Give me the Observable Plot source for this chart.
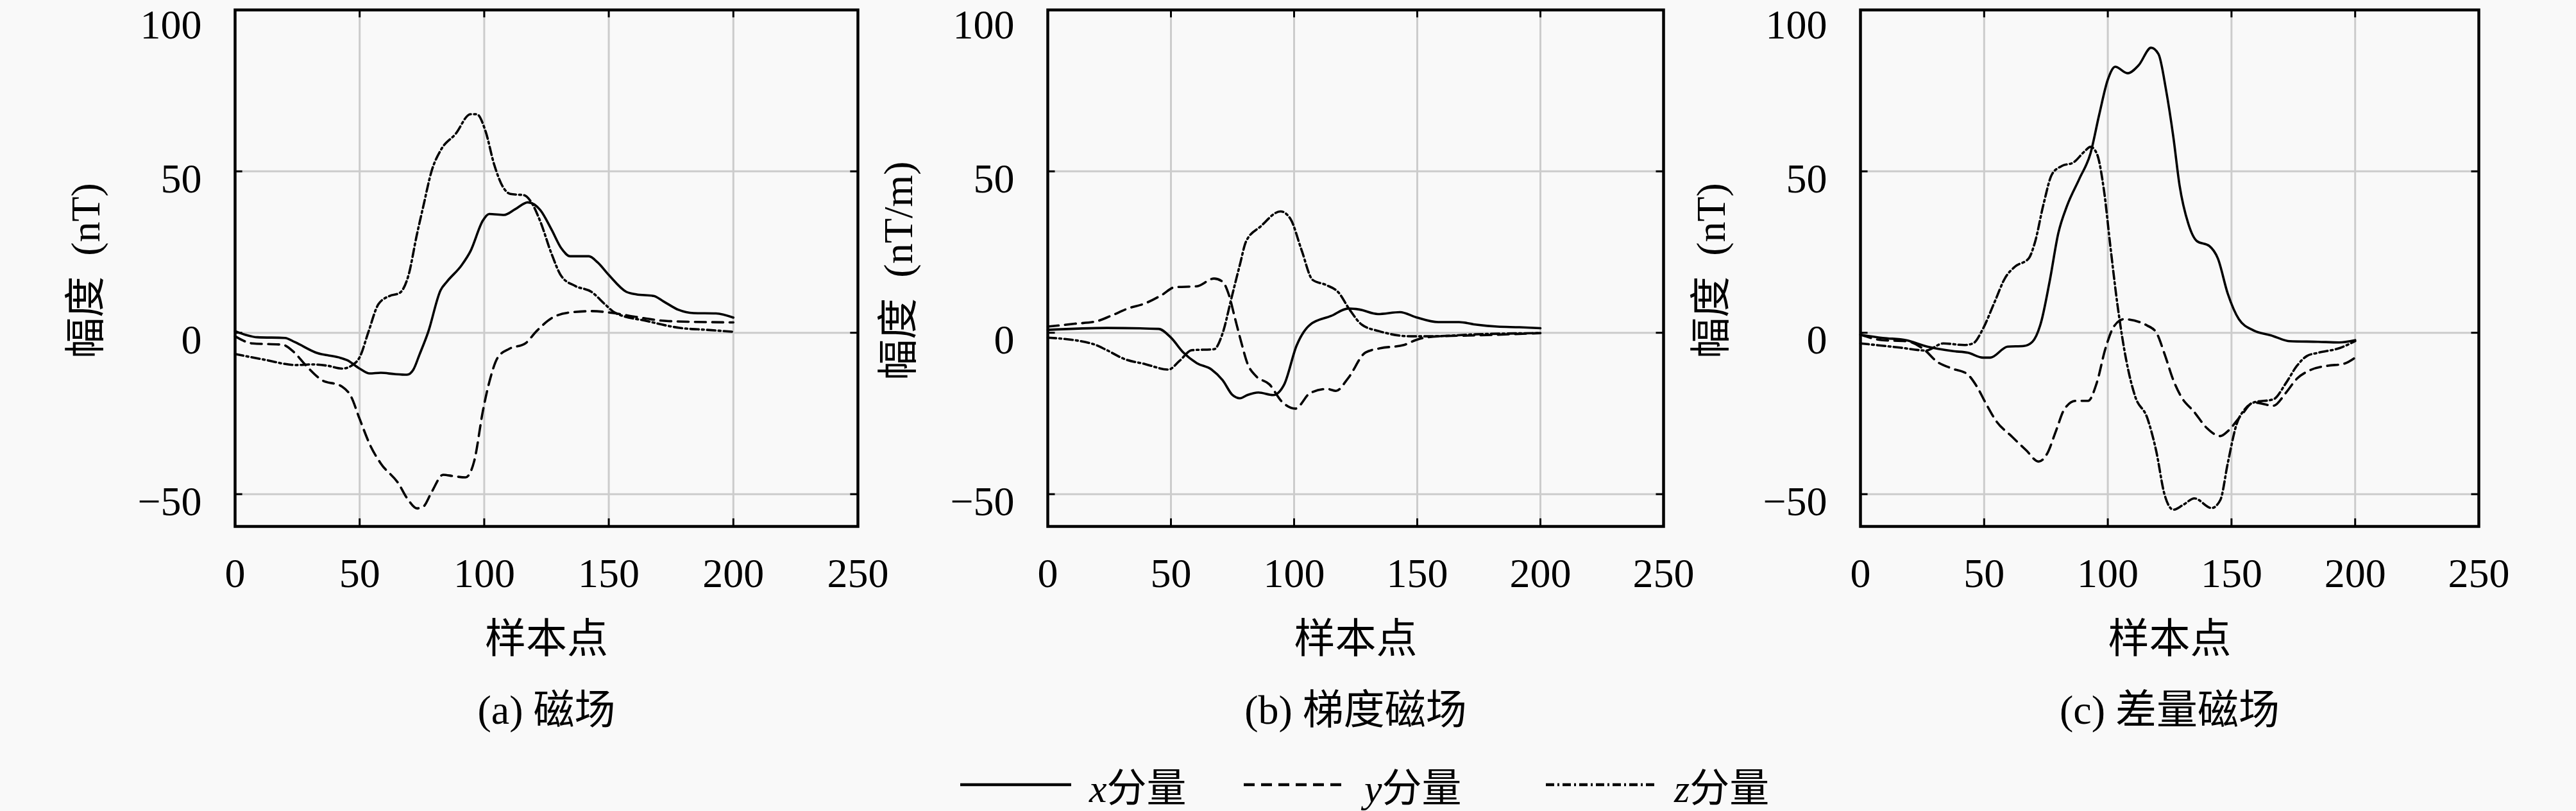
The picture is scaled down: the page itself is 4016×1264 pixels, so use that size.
<!DOCTYPE html>
<html>
<head>
<meta charset="utf-8">
<script src="https://cdn.jsdelivr.net/npm/d3@7"></script>
<script src="https://cdn.jsdelivr.net/npm/@observablehq/plot@0.6"></script>
<style>
  html, body { margin: 0; padding: 0; background: #f9f9f9; }
  #root { position: relative; width: 4016px; height: 1264px; overflow: hidden;
          font-family: "Liberation Serif", "Noto Sans CJK SC", serif; color: #000; }
  .panel { position: absolute; top: 0; }
  .panel svg { overflow: visible; }
  .item { position: absolute; top: 1190px; height: 66px; display: flex; align-items: center;
          font-size: 62px; font-family: "Liberation Serif", "Noto Sans CJK SC", serif; }
  .item i { font-family: "Liberation Serif", serif; }
</style>
</head>
<body>
<div id="root"></div>
<script>
// ---- tick labels / axes ----
const xTicks = [0, 50, 100, 150, 200, 250];
const yTicks = [-50, 0, 50];
const yTopTick = [100];
const gridX = [50, 100, 150, 200];
const gridY = [-50, 0, 50];
const xLabel = "样本点";
const seriesNames = ["x", "y", "z"];

// ---- (a) 磁场 ----
const aXs = [0, 9, 20, 24, 33, 41.5, 45, 50, 54, 58.5, 64, 69, 71.5, 74, 77.5, 82.5, 85, 91, 94.5, 99.5, 102, 108, 112.5, 117.5, 122.5, 127, 131, 134.5, 142, 145.5, 150, 157, 161, 168, 172, 178, 184, 193, 200];
const aXv = [0.5, -1.4, -1.6, -2.9, -6.3, -7.6, -8.5, -11.1, -12.6, -12.4, -12.8, -13, -11.5, -6.8, 0.2, 13.2, 15.8, 21, 25.3, 34.8, 36.8, 36.5, 38.3, 40.4, 38, 32, 26.1, 23.7, 23.7, 21.8, 17.9, 12.7, 11.9, 11.4, 9.7, 7.1, 6.1, 6, 4.7];
const aYs = [0, 7, 19, 23.5, 28.5, 34.5, 43, 46.5, 50, 54.5, 58.5, 65.5, 69.5, 73, 75.5, 79, 83.5, 87.5, 92.5, 96, 99.5, 102, 105.5, 110, 116.5, 121, 127, 133.5, 143, 151, 161, 174, 200];
const aYv = [-1.1, -3.3, -3.7, -5.9, -10.2, -14.5, -16.7, -19.7, -26.7, -35.3, -40.5, -46.6, -51.8, -54.4, -53.9, -49.2, -44, -44.4, -44.8, -39.7, -24.1, -15.4, -7.6, -5, -3.3, 0.5, 4.5, 6.2, 6.7, 6.2, 4.9, 3.6, 3.2];
const aZs = [0, 11.5, 24.5, 31, 37, 43, 47.5, 50, 53.5, 57.5, 62, 66, 69.5, 73, 75.5, 79, 82.5, 88.5, 94.5, 97, 100.5, 104, 107.5, 110.5, 116, 118.5, 122.5, 127, 131, 136.5, 143, 148.5, 152.5, 165.5, 178.5, 189.5, 200];
const aZv = [-6.6, -8.3, -10, -9.8, -10.2, -11.1, -9.8, -7.6, 0.2, 8.8, 11.4, 12.3, 17.5, 30.5, 39, 50.4, 56.5, 61.6, 67.7, 67.7, 62.5, 52.1, 45.2, 43, 42.6, 40.9, 34.5, 24.5, 17.5, 14.5, 12.7, 8.8, 6.2, 3.6, 1.5, 0.9, 0.3];

// ---- (b) 梯度磁场 ----
const bXs = [0, 24, 45, 50, 55, 60.5, 66.5, 71, 75, 78, 81, 85.5, 91.5, 96, 101, 106.5, 115, 122, 126.5, 134, 143, 149.5, 158.5, 167, 174, 182.5, 191.5, 200];
const bXv = [0.9, 1.5, 1.2, -1.5, -6.1, -9.4, -11.4, -14.7, -19.3, -20.3, -19.3, -18.5, -19.3, -16, -4, 2.5, 5.2, 7.5, 7.2, 5.8, 6.4, 4.8, 3.3, 3.3, 2.5, 1.9, 1.7, 1.4];
const bYs = [0, 11, 19.5, 25.5, 32.5, 39.5, 46.5, 51.5, 60.5, 67.5, 71, 73.5, 76, 78.5, 81, 84.5, 90, 95, 100.5, 106.5, 113.5, 117, 122, 129, 135, 144.5, 150, 158.5, 174, 200];
const bYv = [1.9, 2.8, 3.5, 5.2, 7.5, 9.1, 11.8, 14.1, 14.4, 16.8, 15.8, 11.8, 4.5, -2.8, -9.4, -13.4, -16, -21.3, -23.5, -18.7, -17.4, -18, -14, -6.1, -4.8, -3.8, -2.1, -1.1, -0.8, -0.1];
const bZs = [0, 18, 24, 31, 39.5, 49, 53.5, 58.5, 67.5, 71, 74.5, 78, 80.5, 86.5, 94.5, 98.5, 103, 107.5, 113, 118, 122.5, 127.5, 134.5, 147.5, 156, 173.5, 200];
const bZv = [-1.5, -3.4, -5.4, -8.1, -9.7, -11.4, -8.7, -5.4, -5.1, -0.1, 10.5, 21.1, 28.3, 33, 37.6, 35.3, 25.7, 16.4, 14.8, 12.5, 7.2, 2.5, 0.5, -1.1, -1.1, -0.5, -0.1];

// ---- (c) 差量磁场 ----
const cXs = [0, 9, 18.5, 27, 37.5, 43.5, 49.5, 52.5, 59.5, 66, 69.5, 73, 76.5, 80, 83.5, 88.5, 93, 96.5, 100, 103, 108, 112.5, 117.5, 120.5, 123.5, 126.5, 129, 132.5, 136, 141, 144.5, 148.5, 153, 159, 166, 173.5, 185, 193.5, 200];
const cXv = [-0.6, -1.6, -2.3, -4.3, -5.7, -6.2, -7.7, -7.7, -4.3, -4.1, -2.8, 3.2, 16, 30.9, 39.3, 47.7, 55.6, 67.5, 78.4, 82.4, 80.4, 82.9, 88.3, 86.3, 75.4, 60.6, 45.7, 33.9, 28.4, 26.9, 23, 12.1, 4.2, 0.7, -0.8, -2.6, -2.8, -3, -2.3];
const cYs = [0, 9, 18.5, 26.5, 30.5, 37.5, 43, 47, 50.5, 55, 61, 67, 72, 75.5, 79, 82.5, 87, 92, 95.5, 99, 102.5, 106.5, 116, 119.5, 123, 126.5, 129.5, 135, 140, 145.5, 148.5, 154, 159, 167, 172, 176.5, 181.5, 189, 195, 200];
const cYv = [-0.6, -2.3, -2.6, -5.7, -8.7, -11.2, -12.7, -16.6, -21.6, -27.5, -32, -36.4, -39.9, -37.4, -30.5, -23.6, -21.1, -21.1, -15.6, -5, 2, 4.2, 2.2, 0.2, -6.7, -14.7, -19.6, -24.6, -29.5, -32, -30.5, -25.5, -21.6, -22.6, -18.6, -14.2, -11.7, -10.2, -9.7, -7.7];
const cZs = [0, 16, 26.5, 33.5, 42, 45.5, 49.5, 54, 58.5, 62.5, 68, 70.5, 74, 77.5, 81.5, 86, 90.5, 93, 95.5, 98.5, 101, 104, 107.5, 111, 116, 119.5, 123, 126.5, 130.5, 135, 142, 145.5, 148.5, 152, 155.5, 159, 167, 172, 176.5, 180.5, 185, 193.5, 200];
const cZv = [-3.3, -4.6, -5.5, -3.3, -3.8, -3.3, 1.2, 9.1, 17, 20.5, 23, 27.9, 39.8, 49.2, 51.7, 52.7, 56.1, 57.6, 55.6, 43.8, 27, 8.1, -8.7, -19.6, -26.5, -36.4, -50.3, -54.8, -53.3, -51.3, -54.3, -51.8, -40.4, -28.5, -23.6, -21.6, -20.6, -15.6, -10.2, -7.2, -6.2, -4.8, -2.6];

// ---- styles ----
const dash = {x: null, y: "17,10", z: "13,5,3,5"};
const FONT = '"Liberation Serif", "Noto Sans CJK SC", serif';

const panels = [
  {frameLeft: 366, frameW: 971, ylabel: "幅度\u2002(nT)", caption: "(a) 磁场",
   series: {x: [aXs, aXv], y: [aYs, aYv], z: [aZs, aZv]}},
  {frameLeft: 1633, frameW: 960, ylabel: "幅度\u2002(nT/m)", caption: "(b) 梯度磁场",
   series: {x: [bXs, bXv], y: [bYs, bYv], z: [bZs, bZv]}},
  {frameLeft: 2900, frameW: 964, ylabel: "幅度\u2002(nT)", caption: "(c) 差量磁场",
   series: {x: [cXs, cXv], y: [cYs, cYv], z: [cZs, cZv]}}
];

const root = document.getElementById("root");
const ML = 300, MR = 70, MT = 15, FH = 805, MB = 330;

for (const p of panels) {
  const lineMarks = seriesNames.map(k => {
    const [xs, vs] = p.series[k];
    const rows = xs.map((x, i) => ({x, v: vs[i]}));
    return Plot.line(rows, {x: "x", y: "v", stroke: "#000", strokeWidth: 3.6,
      strokeDasharray: dash[k], curve: "monotone-x"});
  });
  const chart = Plot.plot({
    width: ML + p.frameW + MR,
    height: MT + FH + MB,
    marginLeft: ML, marginRight: MR, marginTop: MT, marginBottom: MB,
    style: {background: "transparent", fontFamily: FONT, color: "#000", overflow: "visible"},
    x: {domain: [0, 250]},
    y: {domain: [-60, 100]},
    marks: [
      Plot.ruleX(gridX, {x: d => d, stroke: "#cccccc", strokeWidth: 3}),
      Plot.ruleY(gridY, {y: d => d, stroke: "#cccccc", strokeWidth: 3}),
      ...lineMarks,
      // inward tick marks on all four sides
      Plot.ruleY(gridY, {y: d => d, x1: 0, x2: 3, stroke: "#000", strokeWidth: 3}),
      Plot.ruleY(gridY, {y: d => d, x1: 247, x2: 250, stroke: "#000", strokeWidth: 3}),
      Plot.ruleX(gridX, {x: d => d, y1: -60, y2: -57.6, stroke: "#000", strokeWidth: 3}),
      Plot.ruleX(gridX, {x: d => d, y1: 97.6, y2: 100, stroke: "#000", strokeWidth: 3}),
      Plot.frame({stroke: "#000", strokeWidth: 4.5}),
      Plot.axisX({ticks: xTicks, tickSize: 0, tickPadding: 49, fontSize: 64, label: null}),
      Plot.axisY({ticks: yTicks, tickSize: 0, tickPadding: 52, fontSize: 64, label: null, dy: 12}),
      Plot.axisY({ticks: yTopTick, tickSize: 0, tickPadding: 52, fontSize: 64, label: null, dy: 24}),
      Plot.text([xLabel], {text: d => d, frameAnchor: "bottom", lineAnchor: "middle", textAnchor: "middle", dy: 176, fontSize: 64}),
      Plot.text([p.caption], {text: d => d, frameAnchor: "bottom", lineAnchor: "middle", textAnchor: "middle", dy: 287, fontSize: 64}),
      Plot.text([p.ylabel], {text: d => d, frameAnchor: "left", lineAnchor: "middle", textAnchor: "middle", dx: -232, dy: 4, rotate: -90, fontSize: 64})
    ]
  });
  const div = document.createElement("div");
  div.className = "panel";
  div.style.left = (p.frameLeft - ML) + "px";
  div.appendChild(chart);
  root.appendChild(div);
}

// ---- legend ----
const legendItems = [
  {name: "x", left: 1497, lineW: 173, text: "分量", dash: null},
  {name: "y", left: 1939, lineW: 160, text: "分量", dash: dash.y},
  {name: "z", left: 2410, lineW: 172, text: "分量", dash: dash.z}
];
for (const it of legendItems) {
  const el = document.createElement("div");
  el.className = "item";
  el.style.left = it.left + "px";
  el.innerHTML = `<svg width="${it.lineW}" height="20" style="margin-right:28px"><line x1="0" x2="${it.lineW}" y1="10" y2="10" stroke="#000" stroke-width="4.5" ${it.dash ? `stroke-dasharray="${it.dash}"` : ""}/></svg><span><i>${it.name}</i>${it.text}</span>`;
  root.appendChild(el);
}
</script>
</body>
</html>
